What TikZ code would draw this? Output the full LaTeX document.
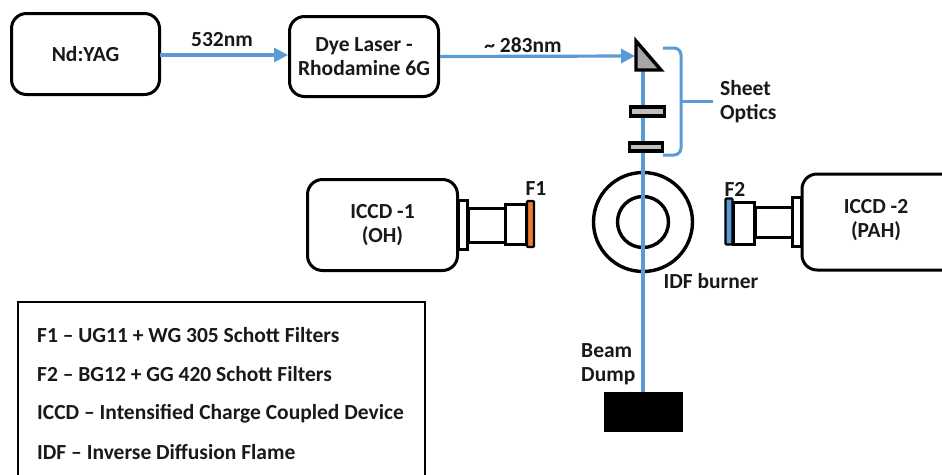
\documentclass[tikz,border=0pt]{standalone}
\usepackage{fontspec}
\setmainfont{Carlito}
\usetikzlibrary{arrows.meta}
\definecolor{beam}{HTML}{5B9BD5}
\definecolor{filtorange}{HTML}{ED7D31}
\definecolor{platefill}{HTML}{BFBFBF}
\definecolor{prismfill}{HTML}{A6A6A6}
\tikzset{
  txt/.style={font=\bfseries\fontsize{21.5}{24}\selectfont, text=black!90},
  lbl/.style={txt, inner sep=0pt, align=center},
  leg/.style={txt, inner sep=0pt, anchor=west},
  roundbox/.style={txt, draw=black, line width=3pt, rounded corners=15pt, inner sep=0pt, align=center, minimum width=#1},
  part/.style={draw=black, line width=3pt, fill=white},
  plate/.style={draw=black, line width=3.6pt, fill=platefill},
  ray/.style={draw=beam, line width=3.2pt},
  rayarrow/.style={ray, -{Triangle[length=14pt,width=14pt]}},
  bracket/.style={draw=beam, line width=3pt},
}
\begin{document}
\begin{tikzpicture}[x=1pt,y=-1pt]
\useasboundingbox (0,0) rectangle (942,474);
% top boxes
\node[roundbox=148pt, minimum height=81pt] (yag) at (85.5,54) {Nd:YAG};
\node[roundbox=149pt, minimum height=80pt] (dye) at (364,56.5) {Dye Laser -\\Rhodamine 6G};
% prism
\coordinate (pa) at (636,41);
\coordinate (pb) at (636,70);
\coordinate (pc) at (661,70);
\coordinate (beamtop) at (643,70);
\coordinate (pin) at (635,56);
% burner
\node[draw=black, line width=3.4pt, circle, minimum size=99pt, inner sep=0pt] (outer) at (643,222) {};
\node[draw=black, line width=3.4pt, circle, minimum size=51pt, inner sep=0pt] (inner) at (643,222) {};
% dump
\node[fill=black, minimum width=79pt, minimum height=40pt, inner sep=0pt] (dump) at (643.5,412) {};
% beams
\coordinate (yagout) at (160,55);
\coordinate (dyein) at (288,55);
\draw[ray] (beamtop) -- (dump.north -| beamtop);
\draw[rayarrow] (yagout) -- (dyein);
\draw[rayarrow] (dye.east) -- (pin);
% prism on top
\draw[draw=black, line width=3.4pt, fill=prismfill, miter limit=6] (pa) -- (pb) -- (pc) -- cycle;
% plates
\node[plate, minimum width=34pt, minimum height=8.5pt, inner sep=0pt] (lens1) at (647.5,111.5) {};
\node[plate, minimum width=33pt, minimum height=8.5pt, inner sep=0pt] (lens2) at (646,147) {};
% bracket
\coordinate (b1) at (663,48);
\coordinate (b2) at (681,101);
\coordinate (b3) at (663,155);
\coordinate (b4) at (713,101);
\draw[bracket, rounded corners=7pt] (b1) -- (681,48) -- (681,155) -- (b3);
\draw[bracket] (b2) -- (b4);
% ICCD 1
\node[roundbox=150pt, minimum height=91pt] (ccd1) at (382.5,225) {ICCD -1\\(OH)};
\node[part, minimum width=9pt, minimum height=49pt, inner sep=0pt] (fl1) at (463,225) {};
\node[part, minimum width=37pt, minimum height=34pt, inner sep=0pt] (tb1) at (486.5,225) {};
\node[part, minimum width=21pt, minimum height=40pt, inner sep=0pt] (fr1) at (516,224) {};
\node[draw=black, line width=2.4pt, fill=filtorange, rounded corners=1pt, minimum width=7pt, minimum height=46pt, inner sep=0pt] (f1) at (530.5,224) {};
\node[lbl] (f1t) at (536,189) {F1};
% ICCD 2
\draw[draw=black, line width=3pt, fill=white, rounded corners=15pt] (960,174) -- (802,174) -- (802,270) -- (960,270);
\node[lbl] (ccd2) at (876,220) {ICCD -2\\(PAH)};
\node[part, minimum width=9pt, minimum height=49pt, inner sep=0pt] (fl2) at (797,222) {};
\node[part, minimum width=37pt, minimum height=30pt, inner sep=0pt] (tb2) at (773.5,222.5) {};
\node[part, minimum width=21pt, minimum height=42pt, inner sep=0pt] (fr2) at (744,223.5) {};
\node[draw=black, line width=2.4pt, fill=beam, rounded corners=1pt, minimum width=7pt, minimum height=46pt, inner sep=0pt] (f2) at (729,221.5) {};
\node[lbl] (f2t) at (735,189) {F2};
% labels
\node[lbl] (l532) at (222,40) {532nm};
\node[lbl] (l283) at (523,45) {\textasciitilde{} 283nm};
\node[lbl, align=left, anchor=west] (sheet) at (720,102) {Sheet\\Optics};
\node[lbl] (idf) at (711,281) {IDF burner};
\node[lbl, align=left, anchor=west] (bd) at (581,364) {Beam\\Dump};
% legend
\draw[draw=black, line width=2.2pt] (18,480) -- (18,302) -- (425,302) -- (425,480);
\node[leg] (t1) at (37,335) {F1 – UG11 + WG 305 Schott Filters};
\node[leg] (t2) at (37,374) {F2 – BG12 + GG 420 Schott Filters};
\node[leg] (t3) at (37,414) {ICCD – Intensified Charge Coupled Device};
\node[leg] (t4) at (37,452) {IDF – Inverse Diffusion Flame};
\end{tikzpicture}
\end{document}
